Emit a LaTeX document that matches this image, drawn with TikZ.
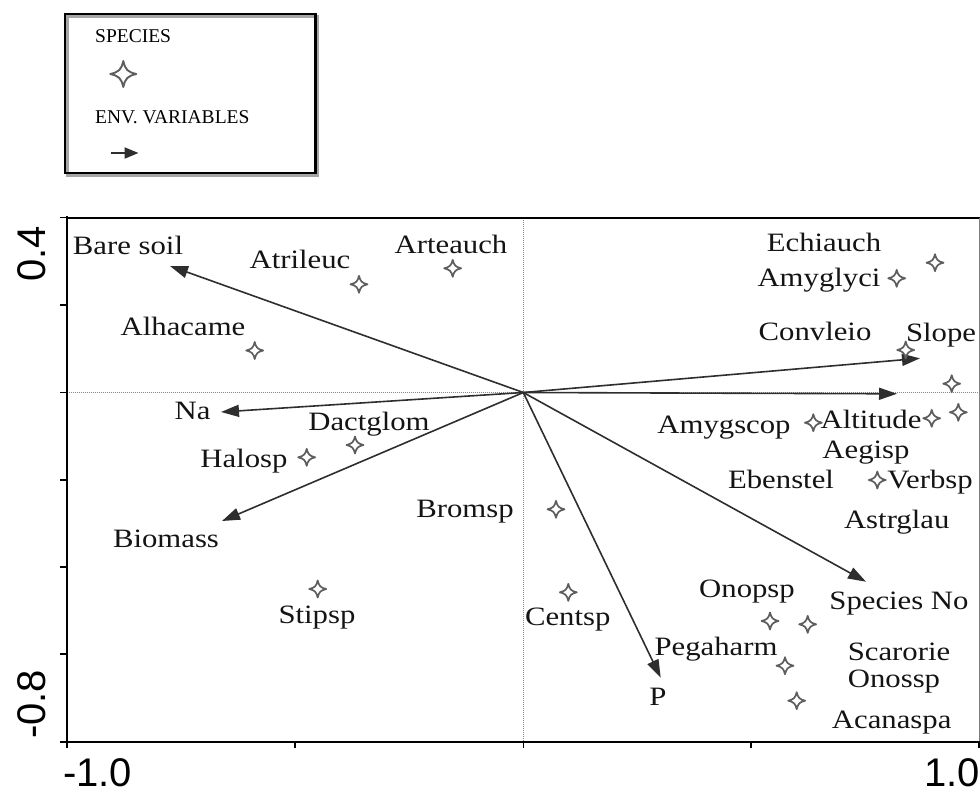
\documentclass[tikz,border=0pt]{standalone}
\usepackage{fontspec}
\setmainfont{Liberation Serif}
\newfontfamily\lblfont[FakeStretch=1.16]{Liberation Serif}
\newfontfamily\legfont{Liberation Serif}
\newfontfamily\axfont{Liberation Sans}
\usetikzlibrary{arrows.meta}
\definecolor{arrgray}{HTML}{2E2E2E}
\definecolor{stargray}{HTML}{5E5E5E}
\definecolor{dotgray}{HTML}{8A8A8A}
\tikzset{
  lbl/.style={inner sep=0pt, anchor=base, font=\lblfont\fontsize{26.5}{26.5}\selectfont, text=black!92},
  leglbl/.style={inner sep=0pt, anchor=base west, font=\legfont\fontsize{19.5}{19.5}\selectfont},
  axlbl/.style={inner sep=0pt, font=\axfont\fontsize{40}{40}\selectfont},
  envarrow/.style={draw=arrgray, line width=1.6pt, -{Triangle[length=18pt,width=12pt]}},
  axisline/.style={line width=2.2pt, black, line cap=rect},
  tickline/.style={line width=1.6pt, black},
  zeroline/.style={dotgray, line width=0.9pt, dash pattern=on 1pt off 1pt},
  spstar/.pic={\draw[stargray, line width=1.7pt, line join=round]
     (8.5,0) .. controls (2.8,1.4) and (1.4,2.8) .. (0,8.5)
     .. controls (-1.4,2.8) and (-2.8,1.4) .. (-8.5,0)
     .. controls (-2.8,-1.4) and (-1.4,-2.8) .. (0,-8.5)
     .. controls (1.4,-2.8) and (2.8,-1.4) .. cycle;},
  bigstar/.pic={\draw[stargray, line width=1.9pt, line join=round]
     (13,0) .. controls (4.2,2.1) and (2.1,4.2) .. (0,13)
     .. controls (-2.1,4.2) and (-4.2,2.1) .. (-13,0)
     .. controls (-4.2,-2.1) and (-2.1,-4.2) .. (0,-13)
     .. controls (2.1,-4.2) and (4.2,-2.1) .. cycle;}
}
\begin{document}
\begin{tikzpicture}[x=1pt,y=-1pt]
\useasboundingbox (0,0) rectangle (980,793);

% legend
\draw[gray!70, line width=2.5pt] (67.5,16.5) rectangle (318,175.5);
\draw[black, line width=2.5pt] (65,14) rectangle (315.7,173);
\node[leglbl] (legsp) at (95,42) {SPECIES};
\pic at (123.3,74) {bigstar};
\node[leglbl] (legenv) at (95,123) {ENV. VARIABLES};
\coordinate (legA) at (111,153);
\coordinate (legB) at (138.5,153);
\draw[draw=arrgray, line width=2pt, -{Triangle[length=14pt,width=11pt]}] (legA) -- (legB);

% plot frame
\coordinate (o) at (523.3,392.5);
\draw[zeroline] (66.7,392.5) -- (980,392.5);
\draw[zeroline] (523.3,218) -- (523.3,741.7);
\draw[black, line width=2pt] (66.7,217.5) -- (980,217.5);
\draw[gray, line width=1pt] (979.5,217.5) -- (979.5,741.7);
\draw[axisline] (66.7,217.5) -- (66.7,741.7) -- (980,741.7);
\foreach \yy in {217.5,305,392.5,480,567,654,741.7}
  \draw[tickline] (60,\yy) -- (66.7,\yy);
\foreach \xx in {66.7,295,523.3,751,979}
  \draw[tickline] (\xx,741.7) -- (\xx,748);

% axis labels
\node[axlbl, rotate=90, anchor=base east] (y04) at (45,226) {0.4};
\node[axlbl, rotate=90, anchor=base west] (y08) at (45,739) {-0.8};
\node[axlbl, anchor=base west] (xm1) at (63,786) {-1.0};
\node[axlbl, anchor=base east] (xp1) at (980,786) {1.0};

% environmental arrows
\coordinate (tbare) at (170,266);
\coordinate (tna) at (221,412);
\coordinate (tbio) at (222,521);
\coordinate (tslope) at (920,358.3);
\coordinate (talt) at (897,393.8);
\coordinate (tspno) at (866,581.7);
\coordinate (tp) at (660.7,677.7);
\foreach \t in {tbare,tna,tbio,tslope,talt,tspno,tp}
  \draw[envarrow] (o) -- (\t);

% species stars
\foreach \sx/\sy in {359/284.3, 452.7/268.3, 254.7/350.5, 306.7/457.3, 355/445,
  556/509.3, 317.7/589, 568.3/592.3, 770/621, 807.7/624.3, 785/665.7,
  796.7/700.7, 877.3/480, 813.3/422.7, 931.7/418.3, 958.3/412.3,
  951.7/383.7, 905.7/350, 896.7/278.3, 935/262.7}
  \pic at (\sx,\sy) {spstar};

% labels
\node[lbl] (bare) at (128,254) {Bare soil};
\node[lbl] (atri) at (300,268) {Atrileuc};
\node[lbl] (arte) at (451,253) {Arteauch};
\node[lbl] (alha) at (183,335) {Alhacame};
\node[lbl] (na) at (192.5,419) {Na};
\node[lbl] (dact) at (369,430) {Dactglom};
\node[lbl] (halo) at (244,467) {Halosp};
\node[lbl] (biom) at (166,547) {Biomass};
\node[lbl] (brom) at (465,517) {Bromsp};
\node[lbl] (stip) at (317,623) {Stipsp};
\node[lbl] (cent) at (567.7,625.7) {Centsp};
\node[lbl] (p) at (658,705) {P};
\node[lbl] (pega) at (716,655) {Pegaharm};
\node[lbl] (onop) at (747,597) {Onopsp};
\node[lbl] (spno) at (899,609) {Species No};
\node[lbl] (scar) at (899,660) {Scarorie};
\node[lbl] (onos) at (894,687.5) {Onossp};
\node[lbl] (acan) at (891.7,728.5) {Acanaspa};
\node[lbl] (astr) at (896.7,528.5) {Astrglau};
\node[lbl] (eben) at (781,488.5) {Ebenstel};
\node[lbl] (verb) at (930,488.5) {Verbsp};
\node[lbl] (aegi) at (866,458.5) {Aegisp};
\node[lbl] (alti) at (871,428.5) {Altitude};
\node[lbl] (amys) at (724,433.5) {Amygscop};
\node[lbl] (slop) at (941,341.5) {Slope};
\node[lbl] (conv) at (815,340) {Convleio};
\node[lbl] (amyg) at (819,286.7) {Amyglyci};
\node[lbl] (echi) at (824,251.7) {Echiauch};
\end{tikzpicture}
\end{document}
